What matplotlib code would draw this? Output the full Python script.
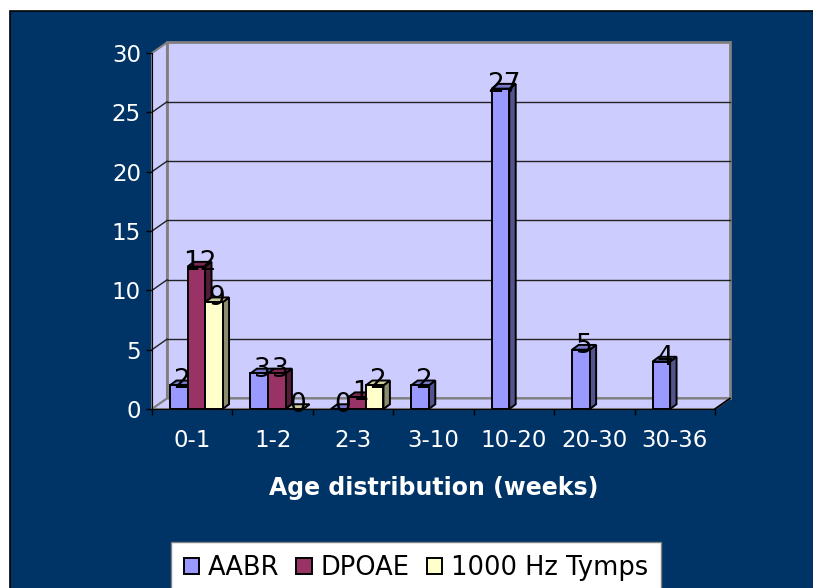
import numpy as np
import matplotlib.pyplot as plt
from matplotlib.patches import Rectangle

# data
categories = ['0-1', '1-2', '2-3', '3-10', '10-20', '20-30', '30-36']
aabr = [2, 3, 0, 2, 27, 5, 4]
dpoae = [12, 3, 1, np.nan, np.nan, np.nan, np.nan]
tymps = [9, 0, 2, np.nan, np.nan, np.nan, np.nan]
series_names = ['AABR', 'DPOAE', '1000 Hz Tymps']
yticks = [0, 5, 10, 15, 20, 25, 30]

NAVY = '#003366'
WALL = '#ccccff'
colors = ['#9999ff', '#993366', '#ffffcc']

plt.rcParams['font.family'] = ['DejaVu Sans']


def shade(hex_color, f):
    c = np.array([int(hex_color[k:k + 2], 16) for k in (1, 3, 5)]) / 255.0
    return tuple(c * f)


W, H = 813, 588
fig = plt.figure(figsize=(W / 100, H / 100), dpi=100)
fig.patch.set_facecolor('white')
fig.add_artist(Rectangle((10 / W, -0.05), 1.1, 1 - 11 / H + 0.05,
                         transform=fig.transFigure, facecolor=NAVY,
                         edgecolor='black', lw=1.2, zorder=0))

ax = fig.add_axes([152 / W, 1 - 409 / H, 563 / W, 356 / H])
ax.set_xlim(-0.5, 6.5)
ax.set_ylim(0, 30)
ax.set_facecolor('none')

# depth of the 3D box in data units
DX, DY = 0.1865, 0.885
x_lo, x_hi = -0.5, 6.5

# walls and floor
ax.fill([x_lo + DX, x_hi + DX, x_hi + DX, x_lo + DX], [DY, DY, 30 + DY, 30 + DY],
        facecolor=WALL, edgecolor='#808080', lw=2, clip_on=False, zorder=1)
ax.fill([x_lo, x_lo, x_lo + DX, x_lo + DX], [0, 30, 30 + DY, DY],
        facecolor=WALL, edgecolor='#808080', lw=1.5, clip_on=False, zorder=1)
ax.fill([x_lo, x_hi, x_hi + DX, x_lo + DX], [0, 0, DY, DY],
        facecolor=WALL, edgecolor='#808080', lw=1.5, clip_on=False, zorder=1)
ax.plot([x_hi, x_hi + DX], [0, DY], color='black', lw=1.2, clip_on=False, zorder=2)

# gridlines on back and side walls
for v in yticks[1:-1]:
    ax.plot([x_lo + DX, x_hi + DX], [v + DY, v + DY], color='#222222', lw=1,
            clip_on=False, zorder=2)
    ax.plot([x_lo, x_lo + DX], [v, v + DY], color='#222222', lw=1,
            clip_on=False, zorder=2)

# 3D columns
bw = 0.218
x0 = -0.276
bdx, bdy = 0.08, 0.4
series = [aabr, dpoae, tymps]
handles = []
for i, vals in enumerate(series):
    vals = np.array(vals, dtype=float)
    lefts = np.arange(len(categories)) + x0 + i * bw
    ok = ~np.isnan(vals)
    bars = ax.bar(lefts[ok], vals[ok], bw, align='edge', color=colors[i],
                  edgecolor='black', lw=1.4, label=series_names[i])
    handles.append(bars)
    for rect, left, v, j in zip(bars, lefts[ok], vals[ok], np.where(ok)[0]):
        z = 10 + j * 10 + i * 3
        rect.set_zorder(z + 2)
        ax.fill([left + bw, left + bw + bdx, left + bw + bdx, left + bw],
                [0, bdy, v + bdy, v], facecolor=shade(colors[i], 0.55),
                edgecolor='black', lw=1.4, zorder=z)
        ax.fill([left, left + bw, left + bw + bdx, left + bdx],
                [v, v, v + bdy, v + bdy], facecolor=shade(colors[i], 0.8),
                edgecolor='black', lw=1.4, zorder=z + 1)
        ax.text(left + bw / 2 + bdx / 2, v + bdy / 2 + 0.12, '%d' % v,
                ha='center', va='center', fontsize=19, color='black',
                zorder=200)

# axes, ticks and labels
for s in ('top', 'right'):
    ax.spines[s].set_visible(False)
ax.spines['left'].set_color('black')
ax.spines['bottom'].set_color('black')
ax.spines['left'].set_zorder(3)
ax.spines['bottom'].set_zorder(3)
ax.set_yticks(yticks)
ax.tick_params(axis='y', colors='white', labelsize=16.5, length=4, width=1,
               pad=4, direction='out')
ax.tick_params(axis='y', color='black')
ax.set_xticks(range(len(categories)))
ax.set_xticklabels(categories)
ax.set_xticks(np.arange(-0.5, 7, 1), minor=True)
ax.tick_params(axis='x', which='major', length=0, pad=14.5, labelsize=16.5,
               labelcolor='white')
ax.tick_params(axis='x', which='minor', length=4.5, width=1, color='black',
               direction='out')

fig.text(434 / W, 1 - 488 / H, 'Age distribution (weeks)', ha='center',
         va='center', fontsize=17, fontweight='bold', color='white')

leg = fig.legend(handles=handles, labels=series_names, ncol=3,
                 loc='upper left', bbox_to_anchor=(171 / W, 1 - 542 / H),
                 bbox_transform=fig.transFigure, fontsize=18.5, frameon=True,
                 fancybox=False, edgecolor='#808080', facecolor='white',
                 framealpha=1, handlelength=0.6, handleheight=0.6,
                 handletextpad=0.35, columnspacing=0.65, borderpad=0.5,
                 borderaxespad=0)
leg.get_frame().set_linewidth(1)

fig.savefig('out.png', dpi=100, facecolor=fig.get_facecolor())
